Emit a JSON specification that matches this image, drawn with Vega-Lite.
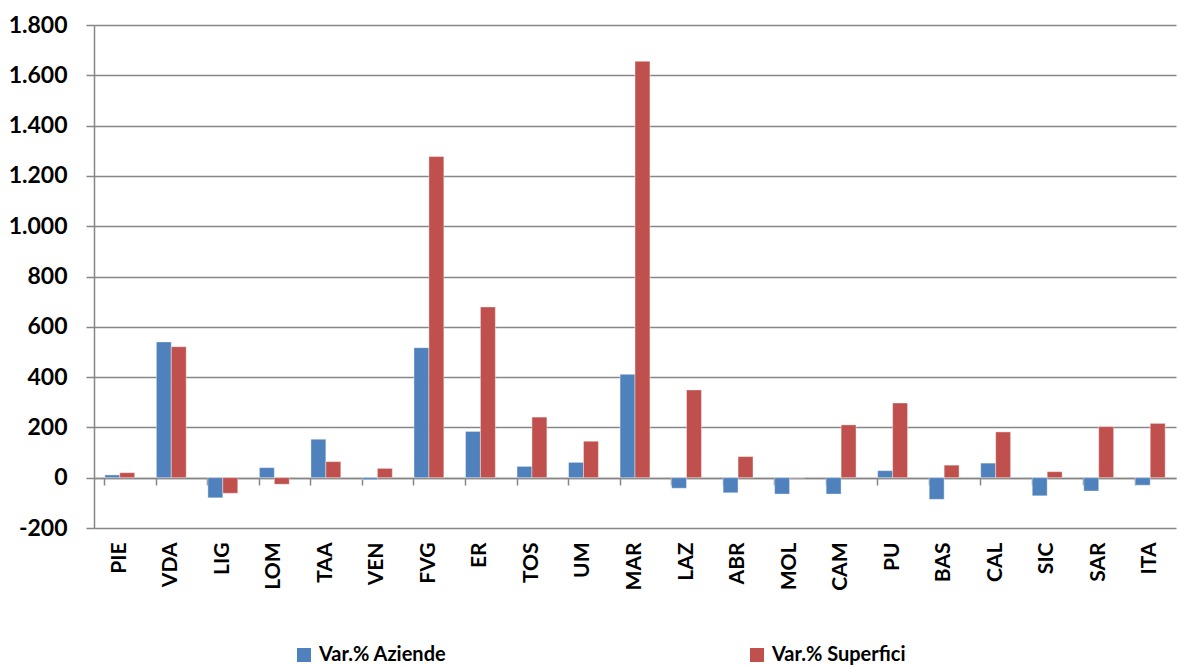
{
  "$schema": "https://vega.github.io/schema/vega-lite/v6.json",
  "width": 1082,
  "height": 503,
  "autosize": {"type": "none"},
  "padding": {"left": 94, "top": 25, "right": 2, "bottom": 138},
  "background": "white",
  "config": {
    "view": {"stroke": null},
    "font": "Lato",
    "axis": {"labelFont": "Lato", "labelFontWeight": "bold", "labelColor": "#000000"}
  },
  "data": {
    "values": [
      {"region": "PIE", "series": "Var.% Aziende", "value": 11},
      {"region": "PIE", "series": "Var.% Superfici", "value": 20},
      {"region": "VDA", "series": "Var.% Aziende", "value": 540},
      {"region": "VDA", "series": "Var.% Superfici", "value": 521},
      {"region": "LIG", "series": "Var.% Aziende", "value": -80},
      {"region": "LIG", "series": "Var.% Superfici", "value": -62},
      {"region": "LOM", "series": "Var.% Aziende", "value": 40},
      {"region": "LOM", "series": "Var.% Superfici", "value": -26},
      {"region": "TAA", "series": "Var.% Aziende", "value": 153},
      {"region": "TAA", "series": "Var.% Superfici", "value": 64},
      {"region": "VEN", "series": "Var.% Aziende", "value": -8},
      {"region": "VEN", "series": "Var.% Superfici", "value": 37},
      {"region": "FVG", "series": "Var.% Aziende", "value": 517},
      {"region": "FVG", "series": "Var.% Superfici", "value": 1277},
      {"region": "ER", "series": "Var.% Aziende", "value": 184},
      {"region": "ER", "series": "Var.% Superfici", "value": 679},
      {"region": "TOS", "series": "Var.% Aziende", "value": 45},
      {"region": "TOS", "series": "Var.% Superfici", "value": 241},
      {"region": "UM", "series": "Var.% Aziende", "value": 61},
      {"region": "UM", "series": "Var.% Superfici", "value": 145},
      {"region": "MAR", "series": "Var.% Aziende", "value": 411},
      {"region": "MAR", "series": "Var.% Superfici", "value": 1656},
      {"region": "LAZ", "series": "Var.% Aziende", "value": -42},
      {"region": "LAZ", "series": "Var.% Superfici", "value": 349},
      {"region": "ABR", "series": "Var.% Aziende", "value": -60},
      {"region": "ABR", "series": "Var.% Superfici", "value": 84},
      {"region": "MOL", "series": "Var.% Aziende", "value": -65},
      {"region": "MOL", "series": "Var.% Superfici", "value": -1},
      {"region": "CAM", "series": "Var.% Aziende", "value": -65},
      {"region": "CAM", "series": "Var.% Superfici", "value": 210},
      {"region": "PU", "series": "Var.% Aziende", "value": 28},
      {"region": "PU", "series": "Var.% Superfici", "value": 297},
      {"region": "BAS", "series": "Var.% Aziende", "value": -86},
      {"region": "BAS", "series": "Var.% Superfici", "value": 50},
      {"region": "CAL", "series": "Var.% Aziende", "value": 58},
      {"region": "CAL", "series": "Var.% Superfici", "value": 182},
      {"region": "SIC", "series": "Var.% Aziende", "value": -72},
      {"region": "SIC", "series": "Var.% Superfici", "value": 24},
      {"region": "SAR", "series": "Var.% Aziende", "value": -53},
      {"region": "SAR", "series": "Var.% Superfici", "value": 203},
      {"region": "ITA", "series": "Var.% Aziende", "value": -30},
      {"region": "ITA", "series": "Var.% Superfici", "value": 216}
    ]
  },
  "layer": [
    {
      "mark": {"type": "bar", "stroke": "#ffffff", "strokeOpacity": 0.5, "strokeWidth": 0.8},
      "encoding": {
        "x": {
          "field": "region", "type": "nominal", "sort": null,
          "scale": {"paddingInner": 0.42, "paddingOuter": 0.21},
          "axis": {
            "title": null, "orient": "bottom", "domain": false, "ticks": false,
            "labelAngle": -90, "labelAlign": "right", "labelBaseline": "middle",
            "labelFontSize": 21, "labelPadding": 14
          }
        },
        "xOffset": {"field": "series", "type": "nominal"},
        "y": {
          "field": "value", "type": "quantitative",
          "scale": {"domain": [-200, 1800], "nice": false, "zero": false},
          "axis": {
            "title": null,
            "values": [-200, 0, 200, 400, 600, 800, 1000, 1200, 1400, 1600, 1800],
            "labelExpr": "replace(replace(format(datum.value, ','), ',', '.'), '\u2212', '-')",
            "labelFontSize": 23, "labelPadding": 19,
            "domainColor": "#868686", "domainWidth": 1.5,
            "tickColor": "#868686", "tickWidth": 1.5, "tickSize": 8,
            "grid": true, "gridColor": "#868686", "gridWidth": 1.5
          }
        },
        "color": {
          "field": "series", "type": "nominal",
          "scale": {"domain": ["Var.% Aziende", "Var.% Superfici"], "range": ["#4F81BD", "#C0504D"]},
          "legend": {
            "title": null, "orient": "none", "direction": "horizontal",
            "legendX": 200, "legendY": 620,
            "symbolType": "square", "symbolSize": 196, "symbolStrokeWidth": 0,
            "labelFont": "Lato", "labelFontWeight": "bold", "labelFontSize": 20,
            "labelColor": "#000000", "labelOffset": 5, "columnPadding": 300
          }
        }
      }
    },
    {
      "mark": {"type": "bar", "opacity": 0},
      "encoding": {
        "x": {
          "field": "region", "type": "nominal", "sort": null,
          "axis": {
            "title": null, "orient": "top", "offset": -453, "labels": false,
            "bandPosition": 0, "domain": true, "domainColor": "#868686", "domainWidth": 1.5,
            "ticks": true, "tickColor": "#868686", "tickWidth": 1.5, "tickSize": -7
          }
        },
        "y": {"datum": 0}
      }
    }
  ],
  "resolve": {"axis": {"x": "independent"}}
}
